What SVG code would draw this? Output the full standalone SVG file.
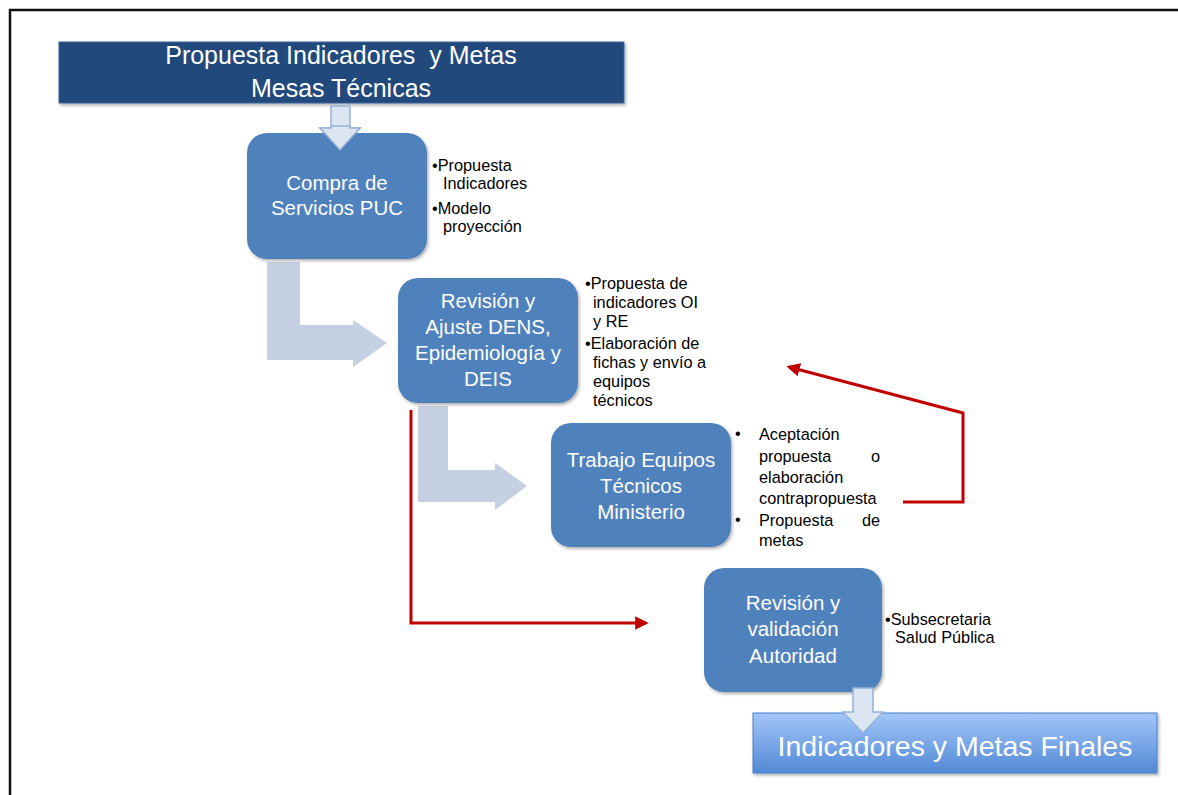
<svg xmlns="http://www.w3.org/2000/svg" width="1178" height="795" viewBox="0 0 1178 795">
<style>
.node{fill:#4F81BD;}
.nt{font-family:"Liberation Sans",Arial,sans-serif;font-size:20.5px;fill:#FFFFFF;text-anchor:middle;}
.bt{font-family:"Liberation Sans",Arial,sans-serif;font-size:16.3px;fill:#000000;}
.fat{fill:#C6D0E3;}
.dn{fill:#DCE6F2;stroke:#95B3D7;stroke-width:1.5;}
.red{fill:none;stroke:#C00000;stroke-width:3;}
</style>
<defs>
<filter id="sh" x="-10%" y="-10%" width="125%" height="130%">
<feDropShadow dx="1.5" dy="2" stdDeviation="1.5" flood-color="#000" flood-opacity="0.3"/>
</filter>
<linearGradient id="fg" x1="0" y1="0" x2="0" y2="1">
<stop offset="0" stop-color="#A3C6F8"/>
<stop offset="1" stop-color="#5289D6"/>
</linearGradient>
<marker id="ah" viewBox="0 0 10 10" refX="8" refY="5" markerWidth="4.5" markerHeight="4.5" orient="auto" markerUnits="strokeWidth">
<path d="M0,0 L10,5 L0,10 z" fill="#C00000"/>
</marker>
</defs>
<rect width="1178" height="795" fill="#FFFFFF"/>
<path d="M10,795 L10,10 L1178,10" fill="none" stroke="#111" stroke-width="2.5"/>

<g id="connectors">
<path class="fat" d="M267,262 L300,262 L300,325 L353,325 L353,320 L387,343 L353,367 L353,360 L267,360 Z"/>
<path class="fat" d="M418,406 L448,406 L448,470 L495,470 L495,463 L527,486 L495,510 L495,502 L418,502 Z"/>
<path class="red" d="M411,410 L411,623 L646,623" marker-end="url(#ah)"/>
<path class="red" d="M903,502 L963,502 L963,413 L789,367" marker-end="url(#ah)"/>
</g>

<g id="n-propuesta">
<rect x="59" y="42" width="565" height="61" fill="#234A7C" stroke="#3C6399" stroke-width="1" filter="url(#sh)"/>
<text x="341" y="64" class="nt" style="font-size:25px;white-space:pre" xml:space="preserve">Propuesta Indicadores  y Metas</text>
<text x="341" y="97" class="nt" style="font-size:25px">Mesas Técnicas</text>
</g>

<g id="a-down1">
<path class="dn" d="M331,106 L350,106 L350,128 L360,128 L340,150 L320,128 L331,128 Z"/>
</g>

<g id="n-compra">
<rect x="247" y="133" width="180" height="126" rx="20" class="node" filter="url(#sh)"/>
<path class="dn" d="M331,126 L350,126 L350,128 L360,128 L340,150 L320,128 L331,128 Z" stroke="none"/>
<text x="337" y="190" class="nt">Compra de</text>
<text x="337" y="215" class="nt">Servicios PUC</text>
<text x="432" y="171" class="bt">•Propuesta</text>
<text x="443" y="189" class="bt">Indicadores</text>
<text x="432" y="214" class="bt">•Modelo</text>
<text x="443" y="232" class="bt">proyección</text>
</g>

<g id="n-revision">
<rect x="398" y="278" width="180" height="125" rx="20" class="node" filter="url(#sh)"/>
<text x="488" y="308" class="nt">Revisión y</text>
<text x="488" y="334" class="nt">Ajuste DENS,</text>
<text x="488" y="360" class="nt">Epidemiología y</text>
<text x="488" y="386" class="nt">DEIS</text>
<text x="585" y="289" class="bt">•Propuesta de</text>
<text x="593" y="308" class="bt">indicadores OI</text>
<text x="593" y="327" class="bt">y RE</text>
<text x="585" y="349" class="bt">•Elaboración de</text>
<text x="593" y="368" class="bt">fichas y envío a</text>
<text x="593" y="387" class="bt">equipos</text>
<text x="593" y="406" class="bt">técnicos</text>
</g>

<g id="n-trabajo">
<rect x="551" y="423" width="180" height="124" rx="20" class="node" filter="url(#sh)"/>
<text x="641" y="467" class="nt">Trabajo Equipos</text>
<text x="641" y="493" class="nt">Técnicos</text>
<text x="641" y="519" class="nt">Ministerio</text>
<text x="735" y="439" class="bt">•</text>
<text x="759" y="440" class="bt">Aceptación</text>
<text x="759" y="462" class="bt">propuesta</text>
<text x="871" y="462" class="bt">o</text>
<text x="759" y="483" class="bt">elaboración</text>
<text x="759" y="504" class="bt">contrapropuesta</text>
<text x="735" y="525" class="bt">•</text>
<text x="759" y="526" class="bt">Propuesta</text>
<text x="862" y="526" class="bt">de</text>
<text x="759" y="546" class="bt">metas</text>
</g>

<g id="n-validacion">
<rect x="704" y="568" width="178" height="124" rx="20" class="node" filter="url(#sh)"/>
<text x="793" y="610" class="nt">Revisión y</text>
<text x="793" y="636" class="nt">validación</text>
<text x="793" y="663" class="nt">Autoridad</text>
<text x="885" y="625" class="bt">•Subsecretaria</text>
<text x="895" y="643" class="bt">Salud Pública</text>
</g>

<g id="n-final">
<rect x="753" y="713" width="404" height="60" fill="url(#fg)" stroke="#4A7EC8" stroke-width="1" filter="url(#sh)"/>
<text x="955" y="756" class="nt" style="font-size:28.5px">Indicadores y Metas Finales</text>
</g>

<g id="a-down2">
<path class="dn" d="M853,688 L873,688 L873,712 L883,712 L863,733 L843,712 L853,712 Z"/>
</g>
</svg>
